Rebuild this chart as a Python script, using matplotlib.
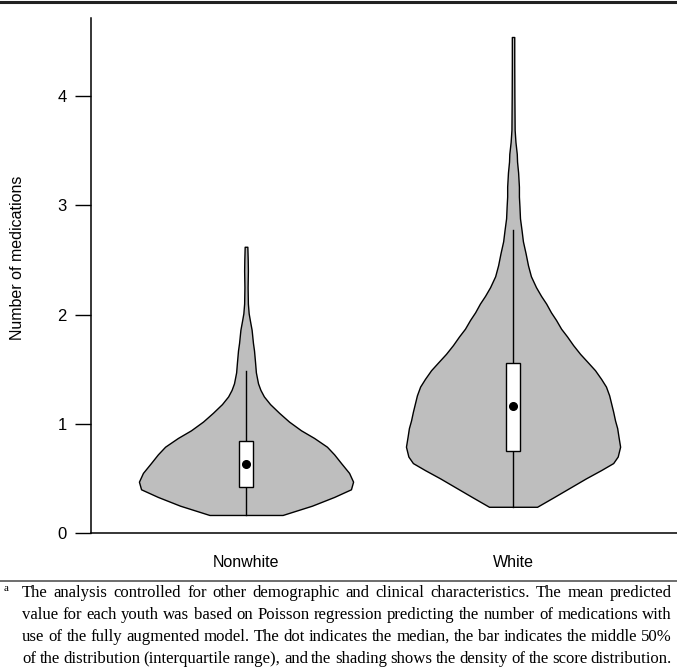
import matplotlib
matplotlib.use('Agg')
import matplotlib.pyplot as plt
from matplotlib.patches import Rectangle
from matplotlib.lines import Line2D

plt.rcParams['font.family'] = ['Liberation Sans', 'DejaVu Sans']

# 数据：小提琴轮廓（y值与半宽，均为数据单位）
categories = ['Nonwhite', 'White']

nonwhite_y = [0.165, 0.25, 0.33, 0.40, 0.47, 0.55, 0.64, 0.72, 0.79, 0.87,
              0.94, 1.02, 1.10, 1.18, 1.25, 1.31, 1.37, 1.47, 1.56, 1.67,
              1.74, 1.86, 1.94, 2.01, 2.10, 2.25, 2.40, 2.50, 2.62]
nonwhite_hw = [0.137, 0.247, 0.330, 0.393, 0.401, 0.386, 0.356, 0.330, 0.303, 0.255,
               0.206, 0.161, 0.124, 0.090, 0.067, 0.054, 0.045, 0.037, 0.034, 0.030,
               0.026, 0.021, 0.015, 0.010, 0.007, 0.006, 0.007, 0.0064, 0.005]

white_y = [0.24, 0.33, 0.42, 0.50, 0.576, 0.64, 0.70, 0.79, 0.88, 0.96,
           1.03, 1.11, 1.19, 1.26, 1.34, 1.41, 1.49, 1.56, 1.64, 1.72,
           1.80, 1.87, 1.95, 2.02, 2.10, 2.17, 2.25, 2.35, 2.45, 2.56,
           2.67, 2.77, 2.88, 2.99, 3.08, 3.17, 3.30, 3.40, 3.47, 3.58,
           3.69, 4.00, 4.30, 4.54]
white_hw = [0.090, 0.154, 0.217, 0.273, 0.330, 0.375, 0.392, 0.401, 0.395, 0.390,
            0.382, 0.375, 0.367, 0.360, 0.348, 0.330, 0.307, 0.281, 0.251, 0.225,
            0.202, 0.180, 0.161, 0.142, 0.124, 0.105, 0.086, 0.067, 0.056, 0.047,
            0.037, 0.032, 0.026, 0.024, 0.022, 0.022, 0.019, 0.015, 0.014, 0.009,
            0.006, 0.005, 0.0045, 0.0045]

medians = [0.63, 1.16]
q1 = [0.424, 0.747]
q3 = [0.845, 1.56]
whisker_lo = [0.165, 0.24]
whisker_hi = [1.485, 2.77]

yticks = [0, 1, 2, 3, 4]

footnote_lines = [
    "The analysis controlled for other demographic and clinical characteristics. The mean predicted",
    "value for each youth was based on Poisson regression predicting the number of medications with",
    "use of the fully augmented model. The dot indicates the median, the bar indicates the middle 50%",
    "of the distribution (interquartile range), and the shading shows the density of the score distribution.",
]

W, H = 677, 667
fig = plt.figure(figsize=(W / 100, H / 100), dpi=100)
ax = fig.add_axes([91 / W, 134 / H, (W - 91) / W, (533 - 18) / H])

profiles = [(nonwhite_y, nonwhite_hw), (white_y, white_hw)]
box_hw = 0.026
for i, (ys, hws) in enumerate(profiles):
    c = i + 1
    left = [c - h for h in hws]
    right = [c + h for h in hws]
    ax.fill_betweenx(ys, left, right, facecolor='#bebebe', edgecolor='black',
                     linewidth=1.0, zorder=1)
    # 须线
    ax.plot([c, c], [whisker_lo[i], whisker_hi[i]], color='black', lw=1.0, zorder=2)
    # 四分位箱
    ax.add_patch(Rectangle((c - box_hw, q1[i]), 2 * box_hw, q3[i] - q1[i],
                           facecolor='white', edgecolor='black', lw=1.0, zorder=3))
    ax.plot(c, medians[i], 'o', color='black', markersize=5.5, zorder=4)

ax.set_xlim(0.4195, 2.614)
ax.set_ylim(0, 4.714)
ax.set_xticks([1, 2])
ax.set_xticklabels(categories, fontsize=11.5)
ax.set_yticks(yticks)
ax.set_yticklabels([str(t) for t in yticks], fontsize=12)
ax.tick_params(axis='x', length=0, pad=16)
ax.tick_params(axis='y', length=11.5, width=1.0, pad=6)
for s in ['top', 'right']:
    ax.spines[s].set_visible(False)
for s in ['left', 'bottom']:
    ax.spines[s].set_linewidth(1.1)

fig.text(18 / W, 1 - 258 / H, 'Number of medications', rotation=90,
         ha='center', va='center', fontsize=11.5)

# 顶部与分隔线
fig.add_artist(Line2D([0, 1], [1 - 2 / H, 1 - 2 / H], color='#222222', lw=2.2))
fig.add_artist(Line2D([0, 1], [1 - 581 / H, 1 - 581 / H], color='#555555', lw=1.2))

# 脚注（两端对齐）
serif = ['Liberation Serif', 'DejaVu Serif']
fig.text(4 / W, 1 - 591 / H, 'a', fontsize=8, family=serif, va='baseline')
renderer = fig.canvas.get_renderer()
x0, x1 = 22, 672
baselines = [597, 619, 641, 663]

# 找到能让最长一行放下的字号
fs = 12.8
while True:
    ok = True
    for line in footnote_lines:
        words = line.split(' ')
        tmp = [fig.text(0, 0, w, fontsize=fs, family=serif) for w in words]
        total = sum(t.get_window_extent(renderer).width for t in tmp)
        for t in tmp:
            t.remove()
        if (x1 - x0 - total) / (len(words) - 1) < 3.2:
            ok = False
            break
    if ok or fs < 9:
        break
    fs -= 0.1

for line, yb in zip(footnote_lines, baselines):
    words = line.split(' ')
    texts = [fig.text(0, 1 - yb / H, w, fontsize=fs, family=serif, va='baseline')
             for w in words]
    widths = [t.get_window_extent(renderer).width for t in texts]
    gap = (x1 - x0 - sum(widths)) / (len(words) - 1)
    x = x0
    for t, w in zip(texts, widths):
        t.set_x(x / W)
        x += w + gap

fig.savefig('out.png', dpi=100)
